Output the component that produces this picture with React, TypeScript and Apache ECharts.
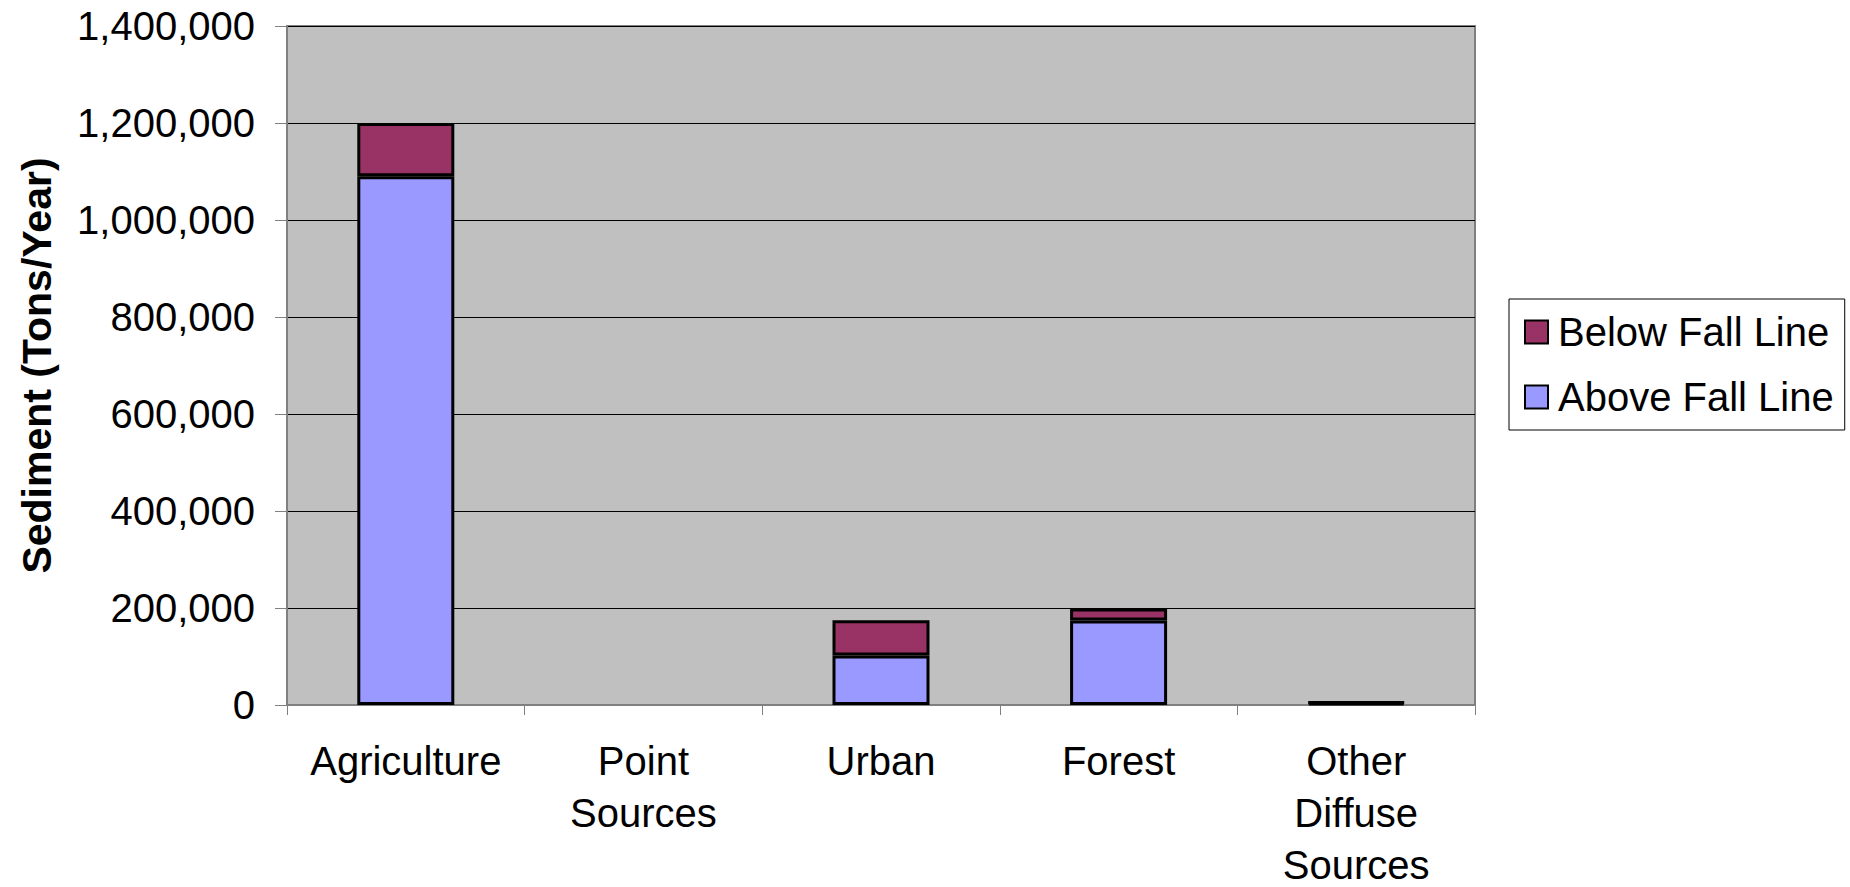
import React, { useEffect, useRef } from "react";
import * as echarts from "echarts";

const categories = ["Agriculture", "Point\nSources", "Urban", "Forest", "Other\nDiffuse\nSources"];
const seriesNames = ["Below Fall Line", "Above Fall Line"];
const aboveFallLine = [1090000, 0, 102000, 174000, 4000];
const belowFallLine = [110000, 0, 73000, 25000, 2000];
const yMin = 0;
const yMax = 1400000;
const yInterval = 200000;
const yTitle = "Sediment (Tons/Year)";

const FONT = "Liberation Sans, Arial, sans-serif";

const toBarData = (arr: number[]) => arr.map((v) => (v === 0 ? null : v));

export default function App() {
  const ref = useRef<HTMLDivElement>(null);
  useEffect(() => {
    if (!ref.current) return;
    const chart = echarts.init(ref.current, undefined, { renderer: "svg" });
    chart.setOption({
      animation: false,
      backgroundColor: "#ffffff",
      textStyle: { fontFamily: FONT },
      grid: {
        left: 287,
        top: 26,
        right: 375,
        bottom: 182,
        show: true,
        backgroundColor: "#C0C0C0",
        borderColor: "#808080",
        borderWidth: 2,
        containLabel: false,
        outerBoundsMode: "none",
      },
      legend: {
        data: seriesNames,
        orient: "vertical",
        left: 1509,
        top: 299,
        padding: [13, 11, 13, 15],
        itemGap: 25,
        itemWidth: 23,
        itemHeight: 23,
        icon: "rect",
        borderColor: "#000",
        borderWidth: 1,
        backgroundColor: "#fff",
        textStyle: { fontFamily: FONT, fontSize: 40, color: "#000", padding: [0, 0, 0, 5] },
        itemStyle: { borderColor: "#000", borderWidth: 2 },
      },
      xAxis: {
        type: "category",
        data: categories,
        axisLine: { show: true, lineStyle: { color: "#808080", width: 2 } },
        axisTick: { show: true, alignWithLabel: false, length: 10, lineStyle: { color: "#808080", width: 1 } },
        axisLabel: {
          color: "#000",
          fontFamily: FONT,
          fontSize: 40,
          lineHeight: 52,
          margin: 30,
          interval: 0,
        },
        splitLine: { show: false },
      },
      yAxis: {
        type: "value",
        min: yMin,
        max: yMax,
        interval: yInterval,
        name: yTitle,
        nameLocation: "middle",
        nameRotate: 90,
        nameGap: 230,
        nameTextStyle: { fontFamily: FONT, fontSize: 41, fontWeight: "bold", color: "#000" },
        axisLine: { show: true, lineStyle: { color: "#808080", width: 2 } },
        axisTick: { show: true, inside: false, length: 12, lineStyle: { color: "#808080", width: 1 } },
        axisLabel: {
          color: "#000",
          fontFamily: FONT,
          fontSize: 40,
          margin: 32,
          formatter: (v: number) => v.toLocaleString("en-US"),
        },
        splitLine: { show: true, lineStyle: { color: "#000", width: 1 } },
      },
      series: [
        {
          name: "Above Fall Line",
          type: "bar",
          stack: "total",
          data: toBarData(aboveFallLine),
          barWidth: 97,
          itemStyle: { color: "#9999FF", borderColor: "#000", borderWidth: 3 },
        },
        {
          name: "Below Fall Line",
          type: "bar",
          stack: "total",
          data: toBarData(belowFallLine),
          barWidth: 97,
          itemStyle: { color: "#993366", borderColor: "#000", borderWidth: 3 },
        },
      ],
    });
    return () => chart.dispose();
  }, []);
  return (
    <div
      ref={ref}
      style={{ position: "fixed", left: 0, top: 0, width: 1850, height: 887 }}
    />
  );
}
